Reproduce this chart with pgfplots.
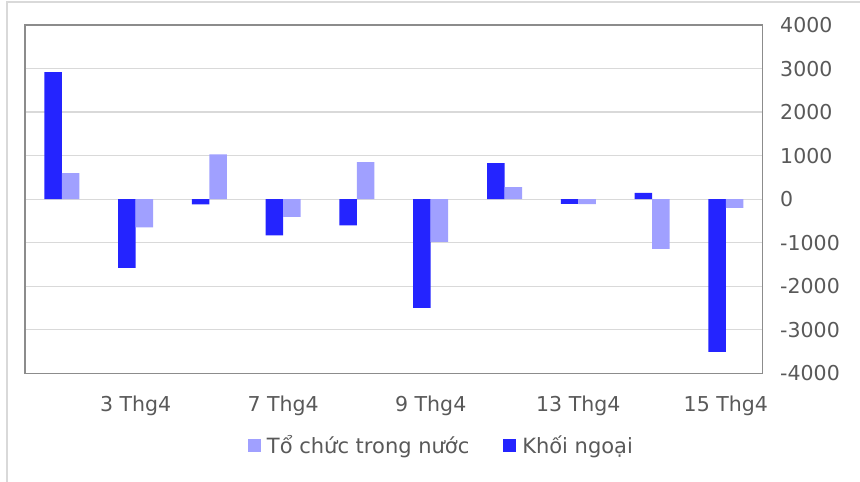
\documentclass[border=0pt]{standalone}
\usepackage{pgfplots}
\pgfplotsset{compat=1.18}
\usepackage{fontspec}
\setmainfont{DejaVu Sans}
\definecolor{kn}{HTML}{2424FF}
\definecolor{tc}{HTML}{A0A0FF}
\definecolor{txt}{HTML}{595959}
\definecolor{gridc}{HTML}{D9D9D9}
\definecolor{axc}{HTML}{8C8C8C}
\pgfplotstableread{
x kn tc
1 2920 600
2 -1580 -650
3 -120 1030
4 -830 -405
5 -600 850
6 -2500 -980
7 830 275
8 -110 -115
9 145 -1140
10 -3510 -200
}\datatable
\begin{document}
\begin{tikzpicture}[x=1pt,y=1pt]
\path[use as bounding box] (0,0) rectangle (860,482);
\draw[gridc,line width=1.5pt] (7,0) -- (7,480) -- (860,480);
\begin{axis}[
  at={(25pt,108.7pt)}, anchor=south west,
  scale only axis, width=737.7pt, height=348.3pt,
  ybar=0pt, bar width=17.5pt,
  xmin=0.5, xmax=10.5, ymin=-4000, ymax=4000,
  ytick={-4000,-3000,...,4000},
  xtick={2,4,6,8,10},
  xticklabels={3 Thg4,7 Thg4,9 Thg4,13 Thg4,15 Thg4},
  yticklabel pos=right,
  yticklabel style={anchor=west, xshift=14pt},
  xticklabel style={yshift=-19pt},
  /pgf/number format/assume math mode=true,
  /pgf/number format/1000 sep={},
  major tick length=0pt,
  ymajorgrids, grid style={gridc, line width=1.3pt},
  axis line style={axc, line width=1.3pt},
  tick label style={font=\fontsize{20.5}{24}\selectfont, text=txt},
  legend columns=2,
  reverse legend,
  legend style={at={(0.302,-0.206)}, anchor=west, draw=none, fill=none,
    inner sep=0pt, font=\fontsize{21}{25}\selectfont, text=txt,
    /tikz/every odd column/.append style={column sep=6pt},
    /tikz/every even column/.append style={column sep=34pt},
    nodes={inner sep=0pt, anchor=west}},
  legend image code/.code={\fill[#1] (0pt,-6.5pt) rectangle (13pt,6.5pt);},
]
\addplot[fill=kn, draw=none] table[x=x,y=kn] {\datatable};
\addplot[fill=tc, draw=none] table[x=x,y=tc] {\datatable};
\legend{Khối ngoại, Tổ chức trong nước}
\end{axis}
\end{tikzpicture}
\end{document}
